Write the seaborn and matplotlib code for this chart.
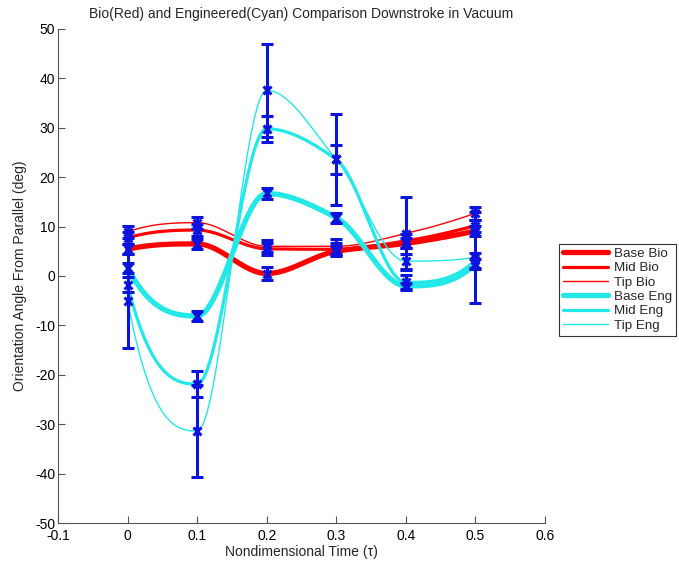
import numpy as np
import pandas as pd
import matplotlib
matplotlib.use("Agg")
import matplotlib.pyplot as plt
import seaborn as sns

# ---------------- data ----------------
tau = [0.0, 0.1, 0.2, 0.3, 0.4, 0.5]

base_bio = [5.4, 6.5, 0.5, 5.0, 6.6, 9.1]
mid_bio = [7.7, 9.3, 5.5, 5.4, 7.1, 10.2]
tip_bio = [8.9, 10.8, 6.0, 6.0, 8.6, 12.7]
base_eng = [1.7, -8.1, 16.7, 11.8, -2.0, 2.4]
mid_eng = [-1.8, -21.9, 29.8, 23.6, -1.3, 3.2]
tip_eng = [-5.0, -31.4, 37.6, 23.6, 3.0, 3.8]

base_bio_err = [1.0, 1.0, 1.3, 1.0, 1.0, 1.0]
mid_bio_err = [1.2, 1.2, 1.2, 1.2, 1.5, 1.2]
tip_bio_err = [1.2, 1.2, 1.2, 1.5, 7.4, 1.3]
base_eng_err = [1.0, 1.0, 1.1, 1.0, 0.6, 1.0]
mid_eng_err = [1.5, 2.6, 2.6, 3.0, 1.5, 1.5]
tip_eng_err = [9.5, 9.3, 9.4, 9.2, 1.5, 9.2]

series_names = ["Base Bio", "Mid Bio", "Tip Bio", "Base Eng", "Mid Eng", "Tip Eng"]
series_vals = [base_bio, mid_bio, tip_bio, base_eng, mid_eng, tip_eng]
series_errs = [base_bio_err, mid_bio_err, tip_bio_err, base_eng_err, mid_eng_err, tip_eng_err]

x_ticks = [-0.1, 0.0, 0.1, 0.2, 0.3, 0.4, 0.5, 0.6]
y_ticks = [-50, -40, -30, -20, -10, 0, 10, 20, 30, 40, 50]


def pchip(x, y, xs):
    """Shape-preserving piecewise cubic Hermite interpolation (like MATLAB pchip)."""
    x = np.asarray(x, float)
    y = np.asarray(y, float)
    h = np.diff(x)
    delta = np.diff(y) / h
    n = len(x)
    d = np.zeros(n)
    for k in range(1, n - 1):
        if delta[k - 1] * delta[k] > 0:
            w1 = 2 * h[k] + h[k - 1]
            w2 = h[k] + 2 * h[k - 1]
            d[k] = (w1 + w2) / (w1 / delta[k - 1] + w2 / delta[k])
        else:
            d[k] = 0.0

    def end_slope(h0, h1, del0, del1):
        dd = ((2 * h0 + h1) * del0 - h0 * del1) / (h0 + h1)
        if np.sign(dd) != np.sign(del0):
            dd = 0.0
        elif np.sign(del0) != np.sign(del1) and abs(dd) > abs(3 * del0):
            dd = 3 * del0
        return dd

    d[0] = end_slope(h[0], h[1], delta[0], delta[1])
    d[-1] = end_slope(h[-1], h[-2], delta[-1], delta[-2])

    idx = np.clip(np.searchsorted(x, xs, side="right") - 1, 0, n - 2)
    hk = h[idx]
    t = (xs - x[idx]) / hk
    h00 = 2 * t ** 3 - 3 * t ** 2 + 1
    h10 = t ** 3 - 2 * t ** 2 + t
    h01 = -2 * t ** 3 + 3 * t ** 2
    h11 = t ** 3 - t ** 2
    return h00 * y[idx] + h10 * hk * d[idx] + h01 * y[idx + 1] + h11 * hk * d[idx + 1]


# ---------------- style ----------------
sns.set_style("white")
plt.rcParams["font.family"] = ["Liberation Sans", "DejaVu Sans"]
plt.rcParams["font.size"] = 10

fig = plt.figure(figsize=(6.79, 5.67), dpi=100)
ax = fig.add_axes([0.0854, 0.0776, 0.7172, 0.8713])

red = "#ff0000"
cyan = "#22e8e8"
colors = [red, red, red, cyan, cyan, cyan]
widths = [3.8, 2.3, 1.0, 3.8, 2.3, 1.0]

xs = np.linspace(tau[0], tau[-1], 500)
for name, vals, col, lw in zip(series_names, series_vals, colors, widths):
    ys = pchip(tau, vals, xs)
    df = pd.DataFrame({"tau": xs, "val": ys})
    sns.lineplot(data=df, x="tau", y="val", color=col, linewidth=lw,
                 label=name, ax=ax, sort=False)

for vals, errs in zip(series_vals, series_errs):
    ax.errorbar(tau, vals, yerr=errs, fmt="x", color="#0a14dc", ecolor="#0a14dc",
                elinewidth=2.2, capsize=4, capthick=2.2, markersize=6,
                markeredgewidth=2.2, zorder=5)

ax.set_xlim(-0.1, 0.6)
ax.set_ylim(-50, 50)
ax.set_xticks(x_ticks)
ax.set_xticklabels([f"{v:g}" for v in x_ticks])
ax.set_yticks(y_ticks)
ax.set_yticklabels([f"{v:g}" for v in y_ticks])
axis_gray = "#555555"
ax.tick_params(direction="in", length=5, width=0.8, top=False, right=False,
               bottom=True, left=True, labelsize=10, color=axis_gray,
               labelcolor="black", pad=2)
ax.tick_params(axis="x", pad=4)
ax.spines["top"].set_visible(False)
ax.spines["right"].set_visible(False)
for s in ("left", "bottom"):
    ax.spines[s].set_color(axis_gray)
    ax.spines[s].set_linewidth(0.8)

ax.set_title("Bio(Red) and Engineered(Cyan) Comparison Downstroke in Vacuum",
             fontsize=10, pad=8)
ax.set_xlabel("Nondimensional Time (\u03c4)", fontsize=10, labelpad=2)
ax.set_ylabel("Orientation Angle From Parallel (deg)", fontsize=10, labelpad=6)

leg = ax.legend(loc="upper left", bbox_to_anchor=(0.8232, 0.570),
                bbox_transform=fig.transFigure, frameon=True, fancybox=False,
                fontsize=9.6, labelspacing=0.15, handlelength=3.4,
                handletextpad=0.45, borderpad=0.3, borderaxespad=0)
leg.get_frame().set_edgecolor("black")
leg.get_frame().set_linewidth(0.8)

fig.savefig("out.png", dpi=100, facecolor="white")
